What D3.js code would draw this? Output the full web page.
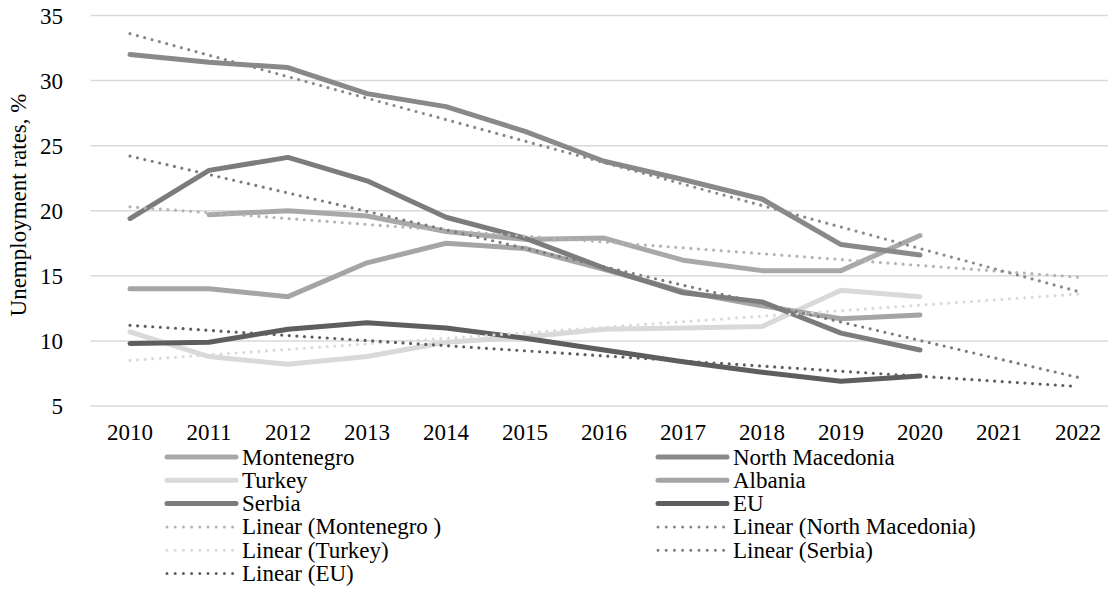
<!DOCTYPE html>
<html>
<head>
<meta charset="UTF-8">
<title>Unemployment rates</title>
<script src="https://d3js.org/d3.v7.min.js"></script>
</head>
<body style="margin:0">
<script>
        // categories
        const years = [2010, 2011, 2012, 2013, 2014, 2015, 2016, 2017, 2018, 2019, 2020, 2021, 2022];
        const yTicks = [5, 10, 15, 20, 25, 30, 35];

        // series values, null = no data
        const montenegro = [null, 19.7, 20.0, 19.6, 18.4, 17.8, 17.9, 16.2, 15.4, 15.4, 18.1];
        const northMacedonia = [32.0, 31.4, 31.0, 29.0, 28.0, 26.1, 23.8, 22.4, 20.9, 17.4, 16.6];
        const turkey = [10.7, 8.8, 8.2, 8.8, 9.9, 10.3, 10.9, 11.0, 11.1, 13.9, 13.4];
        const albania = [14.0, 14.0, 13.4, 16.0, 17.5, 17.1, 15.5, 13.8, 12.7, 11.7, 12.0];
        const serbia = [19.4, 23.1, 24.1, 22.3, 19.5, 17.9, 15.6, 13.7, 13.0, 10.6, 9.3];
        const eu = [9.8, 9.9, 10.9, 11.4, 11.0, 10.2, 9.3, 8.4, 7.6, 6.9, 7.3];

        // linear trend lines: value at 2010 and at 2022
        const trendYears = [2010, 2022];
        const trendMontenegro = [20.3, 14.9];
        const trendNorthMacedonia = [33.6, 13.8];
        const trendTurkey = [8.5, 13.6];
        const trendSerbia = [24.2, 7.2];
        const trendEU = [11.2, 6.5];

        const series = [
            { name: "Montenegro", values: montenegro, color: "#a8a8a8" },
            { name: "North Macedonia", values: northMacedonia, color: "#898989" },
            { name: "Turkey", values: turkey, color: "#d9d9d9" },
            { name: "Albania", values: albania, color: "#a5a5a5" },
            { name: "Serbia", values: serbia, color: "#7c7c7c" },
            { name: "EU", values: eu, color: "#5e5e5e" }
        ];

        const trends = [
            { name: "Linear (Montenegro )", values: trendMontenegro, color: "#b4b4b4" },
            { name: "Linear (North Macedonia)", values: trendNorthMacedonia, color: "#898989" },
            { name: "Linear (Turkey)", values: trendTurkey, color: "#dadada" },
            { name: "Linear (Serbia)", values: trendSerbia, color: "#7c7c7c" },
            { name: "Linear (EU)", values: trendEU, color: "#5e5e5e" }
        ];

        const FONT = "'Liberation Serif'";
        const FS = "23px";
        const width = 1108, height = 590;

        const svg = d3.select("body").append("svg")
            .attr("width", width)
            .attr("height", height);

        const x = d3.scaleBand()
            .domain(years)
            .range([90.5, 1117.5]);

        const y = d3.scaleLinear()
            .domain([5, 35])
            .range([406, 15.5]);

        const cx = d => x(d) + x.bandwidth() / 2;

        // gridlines
        svg.append("g")
            .selectAll("line")
            .data(yTicks)
            .enter().append("line")
            .attr("x1", x.range()[0])
            .attr("x2", x.range()[1])
            .attr("y1", d => y(d))
            .attr("y2", d => y(d))
            .attr("stroke", "#d9d9d9")
            .attr("stroke-width", 1.5);

        // tick labels
        svg.append("g")
            .selectAll("text")
            .data(yTicks)
            .enter().append("text")
            .attr("x", 63)
            .attr("y", d => y(d) + 8)
            .attr("text-anchor", "end")
            .style("font-family", FONT)
            .style("font-size", FS)
            .text(d => d);

        svg.append("g")
            .selectAll("text")
            .data(x.domain())
            .enter().append("text")
            .attr("x", d => cx(d))
            .attr("y", 440)
            .attr("text-anchor", "middle")
            .style("font-family", FONT)
            .style("font-size", FS)
            .text(d => d);

        // y axis title
        svg.append("text")
            .attr("transform", "translate(26,205) rotate(-90)")
            .attr("text-anchor", "middle")
            .style("font-family", FONT)
            .style("font-size", FS)
            .text("Unemployment rates, %");

        // data lines
        const line = d3.line()
            .defined(d => d.v != null)
            .x(d => cx(d.year))
            .y(d => y(d.v));

        svg.append("g").selectAll("path")
            .data(series)
            .enter().append("path")
            .attr("fill", "none")
            .attr("stroke", d => d.color)
            .attr("stroke-width", 5)
            .attr("stroke-linejoin", "round")
            .attr("stroke-linecap", "round")
            .attr("d", d => line(d.values.map((v, i) => ({ year: years[i], v: v }))));

        // trend lines
        svg.append("g").selectAll("path")
            .data(trends)
            .enter().append("path")
            .attr("fill", "none")
            .attr("stroke", d => d.color)
            .attr("stroke-width", 3.2)
            .attr("stroke-linecap", "round")
            .attr("stroke-dasharray", "0 7.6")
            .attr("d", d => line(d.values.map((v, i) => ({ year: trendYears[i], v: v }))));

        // legend, two columns, row-major
        const legendItems = series.map(d => ({ name: d.name, color: d.color, dotted: false }))
            .concat(trends.map(d => ({ name: d.name, color: d.color, dotted: true })));

        const colX = [167, 658];
        const rowY0 = 457, rowStep = 23.3;

        const legend = svg.selectAll(".legend")
            .data(legendItems)
            .enter().append("g")
            .attr("class", "legend")
            .attr("transform", (d, i) => "translate(" + colX[i % 2] + "," + (rowY0 + Math.floor(i / 2) * rowStep) + ")");

        legend.append("line")
            .attr("x1", 0)
            .attr("x2", 69)
            .attr("stroke", d => d.color)
            .attr("stroke-width", d => d.dotted ? 3 : 5)
            .attr("stroke-linecap", "round")
            .attr("stroke-dasharray", d => d.dotted ? "0 8.2" : null);

        legend.append("text")
            .attr("x", 75)
            .attr("y", 7.5)
            .style("font-family", FONT)
            .style("font-size", FS)
            .text(d => d.name);
</script>
</body>
</html>
